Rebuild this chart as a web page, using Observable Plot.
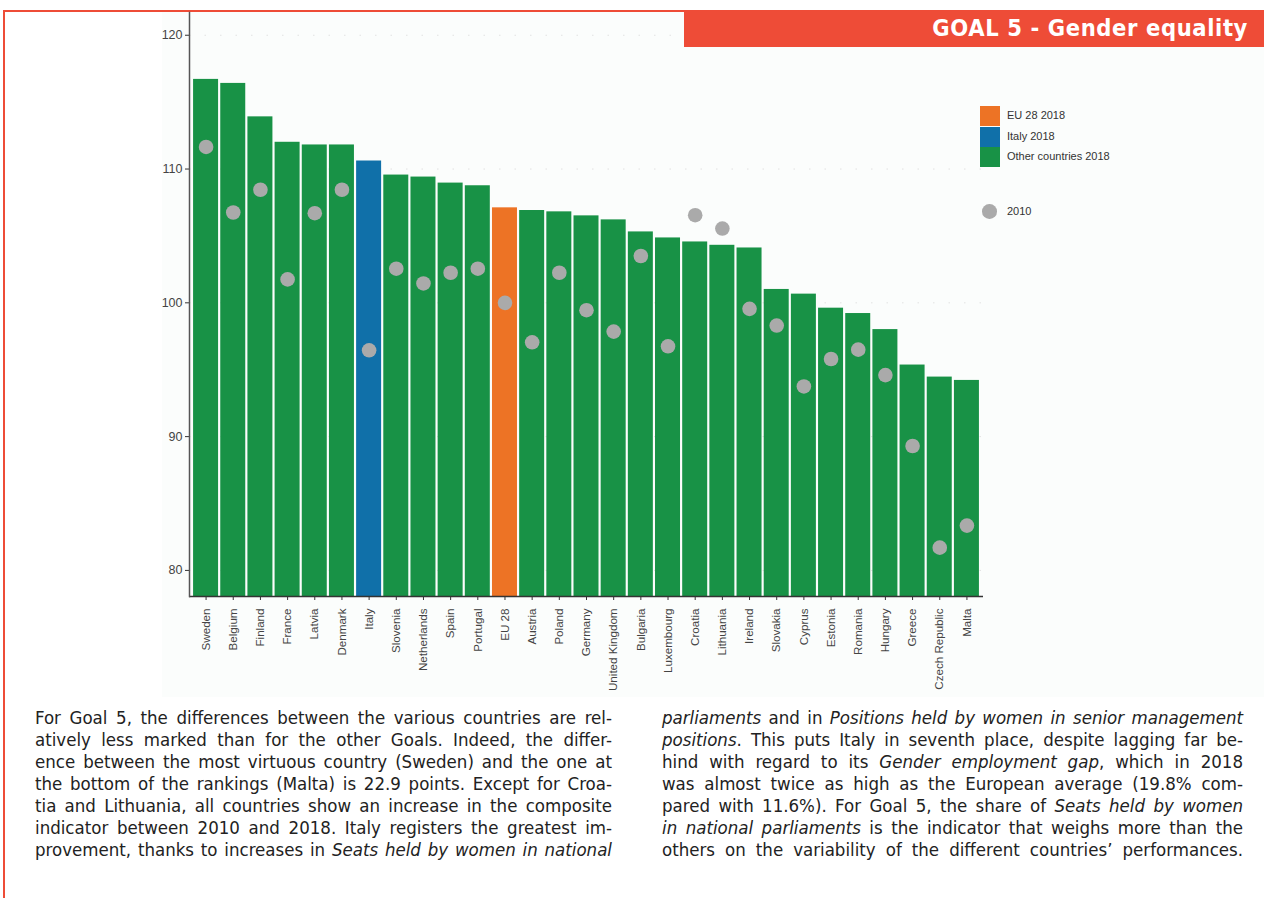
<!DOCTYPE html>
<html>
<head>
<meta charset="utf-8">
<script src="https://cdn.jsdelivr.net/npm/d3@7"></script>
<script src="https://cdn.jsdelivr.net/npm/@observablehq/plot@0.6"></script>
<style>
  html, body { margin: 0; padding: 0; background: #ffffff; }
  #page { position: relative; width: 1264px; height: 898px; overflow: hidden; background: #ffffff; }
  #panel { position: absolute; left: 162px; top: 12px; width: 1102px; height: 685px; background: #fbfdfc; }
  #borderLeft { position: absolute; left: 3px; top: 10px; width: 2px; height: 888px; background: #ee4c37; }
  #borderTop { position: absolute; left: 3px; top: 10px; width: 681px; height: 2px; background: #ee4c37; }
  #banner { position: absolute; left: 684px; top: 10px; width: 580px; height: 37px; background: #ee4c37; z-index: 5; }
  #bannerText { position: absolute; right: 16px; top: 3px; color: #ffffff; font-family: "DejaVu Sans Condensed", "DejaVu Sans", sans-serif; font-stretch: condensed; font-weight: bold; font-size: 23.5px; letter-spacing: 0.6px; line-height: 30px; white-space: nowrap; }
  #chart { position: absolute; left: 0; top: 0; z-index: 1; }
  .leg { position: absolute; font-family: "Liberation Sans", Arial, sans-serif; font-size: 11px; color: #333; white-space: nowrap; z-index: 2; }
  .sw { position: absolute; width: 20px; z-index: 2; }
  .col { position: absolute; top: 707px; font-family: "DejaVu Sans Condensed", "DejaVu Sans", sans-serif; font-stretch: condensed; font-size: 18.5px; color: #222; z-index: 2; }
  .ln { height: 22px; line-height: 22px; white-space: nowrap; text-align: justify; text-align-last: justify; }
</style>
</head>
<body>
<div id="page">
  <div id="panel"></div>
  <div id="borderLeft"></div>
  <div id="borderTop"></div>
  <div id="chart"></div>
  <div id="banner"><div id="bannerText">GOAL 5 - Gender equality</div></div>
  <div id="legend"></div>
  <div class="col" id="colLeft" style="left:35px; width:577px;"></div>
  <div class="col" id="colRight" style="left:662px; width:581px;"></div>
</div>
<script>
// ---- data ----
const countries = ["Sweden","Belgium","Finland","France","Latvia","Denmark","Italy","Slovenia","Netherlands","Spain","Portugal","EU 28","Austria","Poland","Germany","United Kingdom","Bulgaria","Luxembourg","Croatia","Lithuania","Ireland","Slovakia","Cyprus","Estonia","Romania","Hungary","Greece","Czech Republic","Malta"];
const values2018 = [116.7,116.4,113.9,112.0,111.8,111.8,110.6,109.55,109.4,108.95,108.75,107.1,106.9,106.8,106.5,106.2,105.3,104.85,104.55,104.3,104.1,101.0,100.65,99.6,99.2,98.0,95.35,94.45,94.2];
const values2010 = [111.65,106.75,108.45,101.75,106.7,108.45,96.45,102.55,101.45,102.25,102.55,100.0,97.05,102.25,99.45,97.85,103.5,96.75,106.55,105.55,99.55,98.3,93.75,95.8,96.5,94.6,89.3,81.7,83.35];
const groupNames = ["EU 28 2018","Italy 2018","Other countries 2018"];
const groupColors = ["#ed7325","#1070a9","#189246"];
const dotLabel = "2010";
const dotColor = "#aaaaaa";
const yTicks = [80,90,100,110,120];
const yDomain = [78.05,121.7];

const textLeft = [
  "For Goal 5, the differences between the various countries are rel-",
  "atively less marked than for the other Goals. Indeed, the differ-",
  "ence between the most virtuous country (Sweden) and the one at",
  "the bottom of the rankings (Malta) is 22.9 points. Except for Croa-",
  "tia and Lithuania, all countries show an increase in the composite",
  "indicator between 2010 and 2018. Italy registers the greatest im-",
  "provement, thanks to increases in <i>Seats held by women in national</i>"
];
const textRight = [
  "<i>parliaments</i> and in <i>Positions held by women in senior management</i>",
  "<i>positions</i>. This puts Italy in seventh place, despite lagging far be-",
  "hind with regard to its <i>Gender employment gap</i>, which in 2018",
  "was almost twice as high as the European average (19.8% com-",
  "pared with 11.6%). For Goal 5, the share of <i>Seats held by women</i>",
  "<i>in national parliaments</i> is the indicator that weighs more than the",
  "others on the variability of the different countries’ performances."
];

const groupOf = c => c === "EU 28" ? groupNames[0] : c === "Italy" ? groupNames[1] : groupNames[2];
const data = countries.map((c, i) => ({country: c, v2018: values2018[i], v2010: values2010[i], group: groupOf(c)}));

const plot = Plot.plot({
  width: 1000,
  height: 706,
  marginLeft: 189,
  marginRight: 17,
  marginTop: 12,
  marginBottom: 110,
  style: {fontFamily: "'Liberation Sans', Arial, sans-serif", background: "transparent", color: "#333", overflow: "visible"},
  x: {domain: countries, paddingInner: 0.08, paddingOuter: 0.15, round: false, label: null},
  y: {domain: yDomain, label: null},
  color: {domain: groupNames, range: groupColors},
  marks: [
    Plot.gridY(yTicks, {stroke: "#e2e2e2", strokeOpacity: 1, strokeDasharray: "1.5,14"}),
    Plot.barY(data, {x: "country", y1: yDomain[0], y2: "v2018", fill: "group"}),
    Plot.dot(data, {x: "country", y: "v2010", r: 7.3, fill: dotColor, stroke: "none"}),
    Plot.axisY({ticks: yTicks, tickSize: 4, tickPadding: 3, fontSize: 12.5, stroke: "#333", fill: "#444", label: null}),
    Plot.axisX({tickRotate: -90, tickSize: 4, tickPadding: 8, fontSize: 11.6, stroke: "#333", fill: "#444", label: null}),
    Plot.ruleY([yDomain[0]], {stroke: "#333", strokeWidth: 1.5}),
    Plot.frame({anchor: "left", stroke: "#555", strokeWidth: 1.5})
  ]
});
document.getElementById("chart").appendChild(plot);

// ---- legend ----
const legend = document.getElementById("legend");
groupNames.forEach((g, i) => {
  const sw = document.createElement("div");
  sw.className = "sw";
  sw.style.cssText = `left:980px; top:${106 + i*20.7}px; height:20px; background:${groupColors[i]};`;
  legend.appendChild(sw);
  const t = document.createElement("div");
  t.className = "leg";
  t.style.cssText = `left:1007px; top:${109 + i*20.7}px;`;
  t.textContent = g;
  legend.appendChild(t);
});
const dotEl = document.createElement("div");
dotEl.style.cssText = `position:absolute; z-index:2; left:982px; top:204px; width:14.6px; height:14.6px; border-radius:50%; background:${dotColor};`;
legend.appendChild(dotEl);
const dotT = document.createElement("div");
dotT.className = "leg";
dotT.style.cssText = "left:1007px; top:205px;";
dotT.textContent = dotLabel;
legend.appendChild(dotT);

// ---- body text ----
function fill(id, lines) {
  const el = document.getElementById(id);
  lines.forEach(l => {
    const d = document.createElement("div");
    d.className = "ln";
    d.innerHTML = l;
    el.appendChild(d);
  });
  // shrink letter spacing if a line overflows
  el.querySelectorAll(".ln").forEach(d => {
    let ls = 0;
    while (d.scrollWidth > d.clientWidth + 0.5 && ls > -1.5) {
      ls -= 0.05;
      d.style.letterSpacing = ls + "px";
    }
  });
}
fill("colLeft", textLeft);
fill("colRight", textRight);
</script>
</body>
</html>
